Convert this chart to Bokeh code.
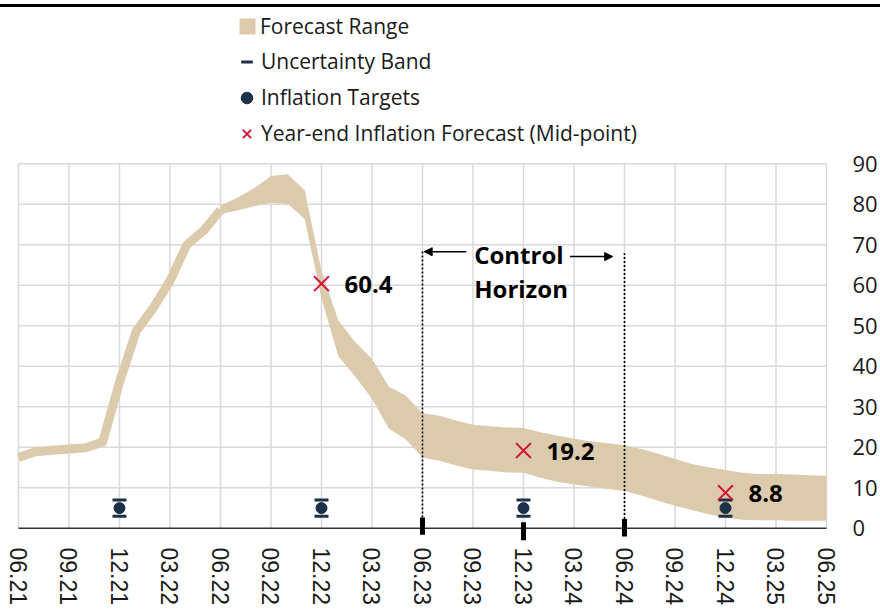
from bokeh.plotting import figure
from bokeh.layouts import column
from bokeh.models import (Range1d, FixedTicker, Legend, LegendItem, Arrow,
                          NormalHead, Label, Div)
from bokeh.core.properties import value
from bokeh.embed import file_html
from bokeh.resources import INLINE

# ---------------- data ----------------
quarter_labels = ["06.21", "09.21", "12.21", "03.22", "06.22", "09.22", "12.22",
                  "03.23", "06.23", "09.23", "12.23", "03.24", "06.24", "09.24",
                  "12.24", "03.25", "06.25"]
quarter_ticks = [3 * i for i in range(len(quarter_labels))]   # month index

y_ticks = [0, 10, 20, 30, 40, 50, 60, 70, 80, 90]

# realised inflation (month index 0 = 06.21)
actual_month = list(range(0, 13))
actual_value = [17.5, 18.9, 19.3, 19.6, 19.9, 21.3, 36.1, 48.7, 54.4, 61.1,
                70.0, 73.5, 78.6]

# forecast range
forecast_month = list(range(12, 49))
forecast_low = [77.6, 78.5, 79.5, 80.4, 80.1, 76.4, 56.8, 42.5, 37.5, 32.0,
                24.6, 22.0, 17.5, 16.7, 15.5, 14.5, 14.2, 13.8, 13.7, 12.5,
                11.5, 10.8, 10.3, 9.7, 9.2, 8.1, 6.8, 5.6, 4.5, 3.5,
                2.7, 2.1, 2.0, 2.0, 1.9, 1.9, 1.9]
forecast_high = [79.7, 81.6, 84.0, 87.0, 87.4, 83.5, 63.6, 51.3, 46.0, 41.8,
                 35.0, 32.8, 28.4, 27.8, 26.6, 25.6, 25.2, 24.9, 24.8, 23.7,
                 22.9, 22.1, 21.5, 21.0, 20.5, 19.6, 18.4, 17.1, 15.9, 15.1,
                 14.4, 13.7, 13.4, 13.4, 13.3, 13.1, 13.0]

# inflation targets and uncertainty band
target_month = [6, 18, 30, 42]
target_value = [5, 5, 5, 5]
band_low = [3, 3, 3, 3]
band_high = [7, 7, 7, 7]

# year-end forecasts (mid-point)
ye_month = [18, 30, 42]
ye_value = [60.4, 19.2, 8.8]
ye_text = [f"{v:.1f}" for v in ye_value]

# control horizon
horizon_start = 24
horizon_end = 36
horizon_marks = [24, 30, 36]
horizon_mark_top = [2.7, 1.5, 2.3]
horizon_mark_bottom = [-1.6, -3.0, -2.0]

# ---------------- style ----------------
TAN = "#dccaac"
NAVY = "#1c3048"
RED = "#d5123b"
GRID = "#d9d9d9"
TXT = "#1a1a1a"

p = figure(width=880, height=602, x_range=Range1d(-1.069, 48.06),
           y_range=Range1d(-3, 128.6), output_backend="svg",
           toolbar_location=None, y_axis_location="right",
           min_border_left=0, min_border_right=53, min_border_top=0,
           min_border_bottom=69)
p.grid.visible = False
p.outline_line_color = None
p.background_fill_color = "white"
p.border_fill_color = "white"

# grid lines (drawn as segments so they stop at the axis)
p.segment(x0=quarter_ticks, x1=quarter_ticks, y0=[0] * len(quarter_ticks),
          y1=[y_ticks[-1]] * len(quarter_ticks), line_color=GRID, line_width=1.5)
p.segment(x0=[quarter_ticks[0]] * (len(y_ticks) - 1),
          x1=[quarter_ticks[-1]] * (len(y_ticks) - 1),
          y0=y_ticks[1:], y1=y_ticks[1:], line_color=GRID, line_width=1.5)

# forecast range
r_area = p.varea(x=forecast_month, y1=forecast_low, y2=forecast_high,
                 fill_color=TAN)
p.line(actual_month, actual_value, line_color=TAN, line_width=9,
       line_join="round", line_cap="butt")

# control horizon dotted lines
p.segment(x0=[horizon_start, horizon_end], x1=[horizon_start, horizon_end],
          y0=[horizon_mark_top[0], horizon_mark_top[2]], y1=[68.8, 67.9],
          line_color="black", line_width=1.6, line_dash="2 2")

# axis line at zero
p.segment(x0=[quarter_ticks[0]], x1=[quarter_ticks[-1]], y0=[0], y1=[0],
          line_color="#333333", line_width=1.5)

# thick horizon marks
p.segment(x0=horizon_marks, x1=horizon_marks, y0=horizon_mark_bottom,
          y1=horizon_mark_top, line_color="black", line_width=5)

# uncertainty band and targets
r_dash = p.scatter(target_month, band_low, marker="dash", size=14,
                   line_color=NAVY, line_width=3)
p.scatter(target_month, band_high, marker="dash", size=14,
          line_color=NAVY, line_width=3)
r_tgt = p.scatter(target_month, target_value, marker="circle", size=11,
                  fill_color=NAVY, line_color=NAVY)

# year-end forecasts
r_ye = p.scatter(ye_month, ye_value, marker="x", size=21, line_color=RED,
                 line_width=2)
p.text(x=ye_month, y=ye_value, text=ye_text, x_offset=23, y_offset=1,
       text_font=value("Open Sans"), text_font_style="bold",
       text_font_size="24px", text_baseline="middle", text_color="black")

# control horizon annotation
p.add_layout(Arrow(end=NormalHead(size=8, fill_color="black", line_color="black"),
                   x_start=26.6, y_start=68.3, x_end=24.1, y_end=68.3,
                   line_width=1.5, line_color="black"))
p.add_layout(Arrow(end=NormalHead(size=8, fill_color="black", line_color="black"),
                   x_start=32.76, y_start=67.1, x_end=35.3, y_end=67.1,
                   line_width=1.5, line_color="black"))
for txt, yy in (("Control", 67.5), ("Horizon", 59.3)):
    p.add_layout(Label(x=27.07, y=yy, text=txt, text_font="Open Sans",
                       text_font_style="bold", text_font_size="24px",
                       text_baseline="middle", text_align="left",
                       text_color="black"))

# axes
xa = p.xaxis[0]
xa.ticker = FixedTicker(ticks=quarter_ticks)
xa.major_label_overrides = {t: l for t, l in zip(quarter_ticks, quarter_labels)}
xa.major_label_orientation = "vertical"
xa.major_label_text_font = "Liberation Sans"
xa.major_label_text_font_size = "23px"
xa.major_label_text_color = TXT
xa.major_label_standoff = 7
xa.axis_line_color = None
xa.major_tick_line_color = None
xa.minor_tick_line_color = None
xa.major_tick_out = 0
xa.major_tick_in = 0

ya = p.yaxis[0]
ya.ticker = FixedTicker(ticks=y_ticks)
ya.major_label_text_font = "Open Sans"
ya.major_label_text_font_size = "22px"
ya.major_label_text_color = TXT
ya.major_label_standoff = 25
ya.axis_line_color = None
ya.major_tick_line_color = None
ya.minor_tick_line_color = None
ya.major_tick_out = 0
ya.major_tick_in = 0

# legends
leg1 = Legend(items=[LegendItem(label="Forecast Range", renderers=[r_area])],
              location=(237, 500), glyph_width=20, glyph_height=20,
              label_height=20, label_standoff=3, padding=0, margin=0,
              spacing=0, border_line_color=None, background_fill_alpha=0,
              label_text_font="Open Sans", label_text_font_size="21px",
              label_text_color=TXT, label_text_baseline="middle")
leg2 = Legend(items=[LegendItem(label="Uncertainty Band", renderers=[r_dash]),
                     LegendItem(label="Inflation Targets", renderers=[r_tgt]),
                     LegendItem(label="Year-end Inflation Forecast (Mid-point)",
                                renderers=[r_ye])],
              location=(232, 392.5), glyph_width=29, glyph_height=29,
              label_height=21, label_standoff=0, padding=0, margin=0,
              spacing=7, border_line_color=None, background_fill_alpha=0,
              label_text_font="Open Sans", label_text_font_size="21px",
              label_text_color=TXT, label_text_baseline="middle")
p.add_layout(leg1)
p.add_layout(leg2)

# top rule
rule = Div(width=880, height=3, margin=(4, 0, 0, 0),
           styles={"background-color": "black"})

layout = column(rule, p, spacing=0)
open("out.html", "w").write(file_html(layout, INLINE))
